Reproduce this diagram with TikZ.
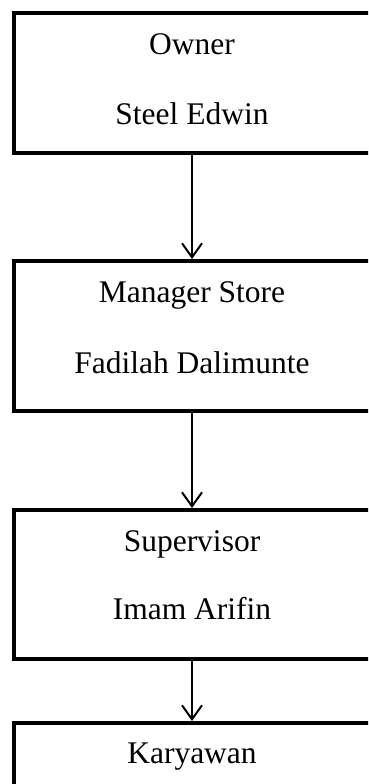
\documentclass[tikz,border=0pt]{standalone}
\usepackage{fontspec}
\setmainfont{Liberation Serif}
\usetikzlibrary{arrows.meta}
\tikzset{
  jabatan/.style={draw,line width=4pt,minimum width=362pt,inner sep=0pt},
  teks/.style={anchor=base,inner sep=0pt,font=\fontsize{31.5}{38}\selectfont},
  panah/.style={line width=2pt,-{Straight Barb[length=14pt,width=20pt,line width=2pt]}}
}
\begin{document}
\begin{tikzpicture}[x=1pt,y=-1pt]
    \useasboundingbox (0,0) rectangle (368,784);
    \clip (0,0) rectangle (368,784);
    % kotak jabatan
    \node[jabatan,minimum height=140pt] (owner) at (195,83) {};
    \node[jabatan,minimum height=150pt] (manager) at (195,336) {};
    \node[jabatan,minimum height=149pt] (spv) at (195,584.5) {};
    \node[jabatan,minimum height=80pt] (karyawan) at (195,763) {};
    % nama jabatan dan orang
    \node[teks] (ownerA) at (192,55) {Owner};
    \node[teks] (ownerB) at (192,124) {Steel Edwin};
    \node[teks] (managerA) at (192,302) {Manager Store};
    \node[teks] (managerB) at (192,373) {Fadilah Dalimunte};
    \node[teks] (spvA) at (192,551) {Supervisor};
    \node[teks] (spvB) at (192,619) {Imam Arifin};
    \node[teks] (karyawanA) at (192,763) {Karyawan};
    % garis komando
    \draw[panah] ([xshift=-3pt]owner.south) -- ([xshift=-3pt]manager.north);
    \draw[panah] ([xshift=-3pt]manager.south) -- ([xshift=-3pt]spv.north);
    \draw[panah] ([xshift=-3pt]spv.south) -- ([xshift=-3pt]karyawan.north);
\end{tikzpicture}
\end{document}
